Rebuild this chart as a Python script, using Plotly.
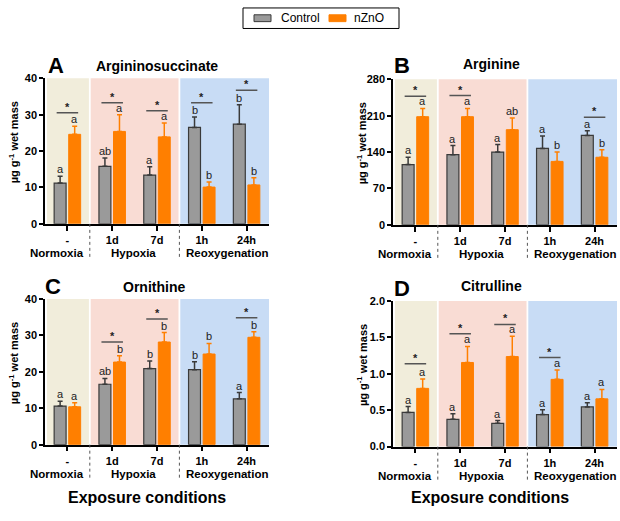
import plotly.graph_objects as go

categories = ["-", "1d", "7d", "1h", "24h"]
group_labels = ["Normoxia", "Hypoxia", "Reoxygenation"]
series_names = ["Control", "nZnO"]

# Panel A - Argininosuccinate
A_ctrl = [11.2, 15.8, 13.4, 26.5, 27.4]
A_ctrl_err = [1.9, 2.3, 2.3, 2.9, 5.3]
A_nzno = [24.6, 25.4, 23.9, 10.1, 10.7]
A_nzno_err = [2.2, 4.6, 3.8, 1.4, 2.0]
A_ctrl_letters = ["a", "ab", "a", "b", "b"]
A_nzno_letters = ["a", "a", "a", "b", "b"]
A_sig_y = [30.5, 33.3, 31.1, 33.3, 36.7]

# Panel B - Arginine
B_ctrl = [116, 135, 140, 147, 172]
B_ctrl_err = [14, 17.5, 14.5, 24, 9]
B_nzno = [208, 208, 183, 122, 130]
B_nzno_err = [16, 16, 22.5, 18, 14.5]
B_ctrl_letters = ["a", "a", "a", "a", "a"]
B_nzno_letters = ["a", "a", "ab", "b", "b"]
B_sig_y = [247.5, 248.7, None, None, 206.8]

# Panel C - Ornithine
C_ctrl = [10.6, 16.6, 20.9, 20.6, 12.6]
C_ctrl_err = [1.3, 1.6, 2.1, 2.2, 1.7]
C_nzno = [10.4, 22.7, 28.2, 24.9, 29.5]
C_nzno_err = [1.1, 1.7, 2.6, 2.9, 1.5]
C_ctrl_letters = ["a", "ab", "b", "b", "a"]
C_nzno_letters = ["a", "b", "b", "b", "b"]
C_sig_y = [None, 28.2, 34.5, None, 34.9]

# Panel D - Citrulline
D_ctrl = [0.47, 0.375, 0.32, 0.44, 0.545]
D_ctrl_err = [0.08, 0.075, 0.037, 0.067, 0.058]
D_nzno = [0.80, 1.156, 1.237, 0.924, 0.656]
D_nzno_err = [0.13, 0.22, 0.28, 0.13, 0.13]
D_ctrl_letters = ["a", "a", "a", "a", "a"]
D_nzno_letters = ["a", "a", "a", "a", "a"]
D_sig_y = [1.138, 1.549, 1.679, 1.223, None]

W, H = 620, 521
FONT = "Liberation Sans, Arial, sans-serif"
GRAY = "#9a9a9a"
GRAY_LINE = "#3a3a3a"
ORANGE = "#ff7f00"
BANDS = ["#f1eddb", "#f9dcd4", "#c8dcf5"]

def px_x(a, b):
    return [a / W, b / W]

def px_y(top, bottom):
    return [1 - bottom / H, 1 - top / H]

panels = [
    dict(letter="A", title="Argininosuccinate", ctrl=A_ctrl, ce=A_ctrl_err, nz=A_nzno, ne=A_nzno_err,
         cl=A_ctrl_letters, nl=A_nzno_letters, sig=A_sig_y, yr=[0, 40], tv=[0, 10, 20, 30, 40], fmt="d",
         dx=px_x(45, 269), dy=px_y(74, 223), tx=0.5, ty=12, lx=11, ly=13),
    dict(letter="B", title="Arginine", ctrl=B_ctrl, ce=B_ctrl_err, nz=B_nzno, ne=B_nzno_err,
         cl=B_ctrl_letters, nl=B_nzno_letters, sig=B_sig_y, yr=[0, 280], tv=[0, 70, 140, 210, 280], fmt="d",
         dx=px_x(393, 617), dy=px_y(75, 224), tx=0.44, ty=15, lx=9, ly=13.5),
    dict(letter="C", title="Ornithine", ctrl=C_ctrl, ce=C_ctrl_err, nz=C_nzno, ne=C_nzno_err,
         cl=C_ctrl_letters, nl=C_nzno_letters, sig=C_sig_y, yr=[0, 40], tv=[0, 10, 20, 30, 40], fmt="d",
         dx=px_x(45, 269), dy=px_y(300, 449), tx=0.487, ty=12, lx=8, ly=12.5),
    dict(letter="D", title="Citrulline", ctrl=D_ctrl, ce=D_ctrl_err, nz=D_nzno, ne=D_nzno_err,
         cl=D_ctrl_letters, nl=D_nzno_letters, sig=D_sig_y, yr=[0, 2.0], tv=[0, 0.5, 1.0, 1.5, 2.0], fmt=".1f",
         dx=px_x(393, 617), dy=px_y(302, 451), tx=0.44, ty=15, lx=9, ly=12.5),
]

fig = go.Figure()
annotations = []
shapes = []
xs = list(range(len(categories)))
OFF = 0.163

for i, p in enumerate(panels):
    n = "" if i == 0 else str(i + 1)
    xa, ya = "x" + n, "y" + n
    fig.add_trace(go.Bar(
        x=xs, y=p["ctrl"], name=series_names[0], xaxis=xa, yaxis=ya, showlegend=False,
        marker=dict(color=GRAY, line=dict(color=GRAY_LINE, width=1.2)),
        error_y=dict(type="data", symmetric=False, array=p["ce"], arrayminus=[0] * 5,
                     color=GRAY_LINE, thickness=1.5, width=2.5),
    ))
    fig.add_trace(go.Bar(
        x=xs, y=p["nz"], name=series_names[1], xaxis=xa, yaxis=ya, showlegend=False,
        marker=dict(color=ORANGE, line=dict(color=ORANGE, width=1)),
        error_y=dict(type="data", symmetric=False, array=p["ne"], arrayminus=[0] * 5,
                     color=ORANGE, thickness=1.5, width=2.5),
    ))
    fig.update_layout(**{
        "xaxis" + n: dict(domain=p["dx"], anchor=ya, range=[-0.5, 4.5], tickvals=xs, ticktext=categories,
                          showline=True, linecolor="black", linewidth=1.5, ticks="outside", ticklen=5,
                          tickwidth=1.5, tickcolor="black", showgrid=False, zeroline=False,
                          tickfont=dict(family=FONT, size=11, color="black", weight="bold")),
        "yaxis" + n: dict(domain=p["dy"], anchor=xa, range=p["yr"], tickvals=p["tv"], tickformat=p["fmt"],
                          showline=True, linecolor="black", linewidth=1.5, ticks="outside", ticklen=4,
                          tickwidth=1.5, tickcolor="black", showgrid=False, zeroline=False,
                          tickfont=dict(family=FONT, size=11, color="black", weight="bold")),
    })
    xd, yd = xa + " domain", ya + " domain"
    # background bands
    for (x0, x1), col in zip([(-0.455, 0.48), (0.52, 2.48), (2.52, 4.5)], BANDS):
        shapes.append(dict(type="rect", xref=xa, yref=yd, x0=x0, x1=x1, y0=0, y1=1,
                           fillcolor=col, line=dict(width=0), layer="below"))
    # dotted separators below axis
    for xv in (0.5, 2.5):
        shapes.append(dict(type="line", xref=xa, yref=yd, x0=xv, x1=xv, y0=0, y1=-35 / 149,
                           line=dict(color="#555555", width=1, dash="dot")))
    # group labels
    for gx, g in zip([-0.23, 1.48, 3.56], group_labels):
        annotations.append(dict(xref=xa, yref=yd, x=gx, y=0, yshift=-29, text=g, showarrow=False,
                                xanchor="center", yanchor="middle",
                                font=dict(family=FONT, size=11.5, color="black", weight="bold")))
    # title and panel letter
    annotations.append(dict(xref=xd, yref=yd, x=p["tx"], y=1, yshift=p["ty"], text=p["title"], showarrow=False,
                            xanchor="center", yanchor="middle",
                            font=dict(family=FONT, size=14, color="black", weight="bold")))
    annotations.append(dict(xref=xd, yref=yd, x=0, y=1, xshift=p["lx"], yshift=p["ly"], text=p["letter"],
                            showarrow=False, xanchor="center", yanchor="middle",
                            font=dict(family=FONT, size=22, color="black", weight="bold")))
    # y-axis title
    annotations.append(dict(xref=xd, yref=yd, x=0, y=0.56, xshift=-31, text="µg g<sup>-1</sup> wet mass",
                            textangle=-90, showarrow=False, xanchor="center", yanchor="middle",
                            font=dict(family=FONT, size=11, color="black", weight="bold")))
    # letters above bars
    for k in xs:
        for off, val, err, lab in ((-OFF, p["ctrl"][k], p["ce"][k], p["cl"][k]),
                                   (OFF, p["nz"][k], p["ne"][k], p["nl"][k])):
            annotations.append(dict(xref=xa, yref=ya, x=k + off, y=val + err, yshift=-1, text=lab,
                                    showarrow=False, xanchor="center", yanchor="bottom",
                                    font=dict(family=FONT, size=11, color="#222222")))
        sy = p["sig"][k]
        if sy is not None:
            shapes.append(dict(type="line", xref=xa, yref=ya, x0=k - 0.24, x1=k + 0.24, y0=sy, y1=sy,
                               line=dict(color="#555555", width=1.5)))
            annotations.append(dict(xref=xa, yref=ya, x=k, y=sy, yshift=-2, text="*", showarrow=False,
                                    xanchor="center", yanchor="bottom",
                                    font=dict(family=FONT, size=11, color="#222222", weight="bold")))

# bottom axis labels
for cx in (147, 490):
    annotations.append(dict(xref="paper", yref="paper", x=cx / W, y=1 - 503 / H, text="Exposure conditions",
                            showarrow=False, xanchor="center", yanchor="middle",
                            font=dict(family=FONT, size=16, color="black", weight="bold")))

# custom legend
shapes.append(dict(type="rect", xref="paper", yref="paper", x0=243 / W, x1=399 / W, y0=1 - 23 / H, y1=1 - 2 / H,
                   line=dict(color="black", width=1), fillcolor="white"))
shapes.append(dict(type="rect", xref="paper", yref="paper", x0=254 / W, x1=271 / W, y0=1 - 16 / H, y1=1 - 9 / H,
                   line=dict(color=GRAY_LINE, width=1), fillcolor=GRAY))
shapes.append(dict(type="rect", xref="paper", yref="paper", x0=329 / W, x1=346 / W, y0=1 - 16 / H, y1=1 - 9 / H,
                   line=dict(color=ORANGE, width=1), fillcolor=ORANGE))
for tx, t in ((279, series_names[0]), (352, series_names[1])):
    annotations.append(dict(xref="paper", yref="paper", x=tx / W, y=1 - 12.5 / H, text=t, showarrow=False,
                            xanchor="left", yanchor="middle", font=dict(family=FONT, size=12, color="black")))

fig.update_layout(
    width=W, height=H, margin=dict(l=0, r=0, t=0, b=0),
    paper_bgcolor="white", plot_bgcolor="rgba(0,0,0,0)",
    barmode="group", bargap=0.35, bargroupgap=0.18,
    showlegend=False, shapes=shapes, annotations=annotations,
    font=dict(family=FONT, color="black"),
)

fig.write_html("out.html", config={"displayModeBar": False},
               post_script="document.body.style.margin='0';document.body.style.overflow='hidden';")
